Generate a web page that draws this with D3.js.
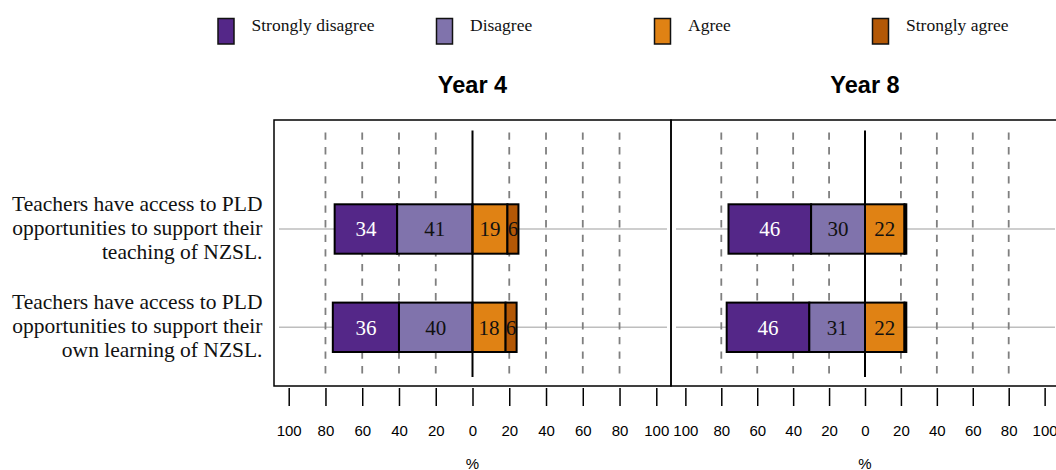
<!DOCTYPE html>
<html>
<head>
<meta charset="utf-8">
<script src="https://cdn.jsdelivr.net/npm/d3@7"></script>
<style>
  html, body { margin: 0; padding: 0; background: #fff; }
  svg { display: block; }
</style>
</head>
<body>
<svg id="chart" width="1056" height="470"></svg>
<script>
// ---- data ----
const categories = ["Strongly disagree", "Disagree", "Agree", "Strongly agree"];
const colors = ["#542788", "#8073ac", "#e08214", "#b35806"];
const panels = ["Year 4", "Year 8"];
const questions = [
  ["Teachers have access to PLD", "opportunities to support their", "teaching of NZSL."],
  ["Teachers have access to PLD", "opportunities to support their", "own learning of NZSL."]
];
// values per panel, per question: [SD, D, A, SA]
const year4Values = [[34, 41, 19, 6], [36, 40, 18, 6]];
const year8Values = [[46, 30, 22, 1], [46, 31, 22, 1]];
const panelValues = [year4Values, year8Values];
const tickValues = [-100, -80, -60, -40, -20, 0, 20, 40, 60, 80, 100];
const gridValues = [-80, -60, -40, -20, 20, 40, 60, 80];

const svg = d3.select("#chart");
const serif = "'Liberation Serif', 'Times New Roman', serif";
const sans = "'Liberation Sans', Arial, sans-serif";

const panelTop = 120, panelBottom = 386;
const panelRanges = [[274, 671], [671, 1059]];
const y = d3.scalePoint().domain(d3.range(questions.length)).range([229, 327.3]);
const barH = 49.4;

// legend
const legendX = [218, 436.5, 654.5, 872.5];
const lg = svg.append("g");
categories.forEach((c, i) => {
  lg.append("rect").attr("x", legendX[i]).attr("y", 18.5).attr("width", 16).attr("height", 25.5)
    .attr("fill", colors[i]).attr("stroke", "#111").attr("stroke-width", 1.5);
  lg.append("text").attr("x", legendX[i] + 33.5).attr("y", 30.5)
    .attr("font-family", serif).attr("font-size", 17.5).attr("fill", "#111").text(c);
});

// y labels
const yl = svg.append("g");
questions.forEach((lines, qi) => {
  lines.forEach((ln, li) => {
    yl.append("text").attr("x", 262.5).attr("y", y(qi) - 2 + (li - 1) * 24)
      .attr("dy", "0.35em").attr("text-anchor", "end")
      .attr("font-family", serif).attr("font-size", 21.5).attr("fill", "#111").text(ln);
  });
});

panels.forEach((p, pi) => {
  const x = d3.scaleLinear().domain([-108, 108]).range(panelRanges[pi]);
  const g = svg.append("g");
  const clipId = "clip" + pi;
  svg.append("clipPath").attr("id", clipId).append("rect")
    .attr("x", panelRanges[pi][0]).attr("y", panelTop)
    .attr("width", panelRanges[pi][1] - panelRanges[pi][0]).attr("height", panelBottom - panelTop);
  const inner = g.append("g").attr("clip-path", `url(#${clipId})`);

  // horizontal reference lines
  inner.selectAll("line.h").data(d3.range(questions.length)).join("line")
    .attr("x1", panelRanges[pi][0] + 5).attr("x2", panelRanges[pi][1] - 4)
    .attr("y1", d => y(d)).attr("y2", d => y(d))
    .attr("stroke", "#bebebe").attr("stroke-width", 1.5);

  // dashed grid
  inner.selectAll("line.g").data(gridValues).join("line")
    .attr("x1", d => x(d)).attr("x2", d => x(d))
    .attr("y1", 132.5).attr("y2", 377)
    .attr("stroke", "#7f7f7f").attr("stroke-width", 1.8).attr("stroke-dasharray", "7.3,7.3");

  // bars
  panelValues[pi].forEach((vals, qi) => {
    const [sd, d, a, sa] = vals;
    const segs = [
      { v: sd, x0: -(sd + d), x1: -d, i: 0 },
      { v: d, x0: -d, x1: 0, i: 1 },
      { v: a, x0: 0, x1: a, i: 2 },
      { v: sa, x0: a, x1: a + sa, i: 3 }
    ];
    const bg = inner.append("g");
    bg.selectAll("rect").data(segs).join("rect")
      .attr("x", s => x(s.x0)).attr("width", s => x(s.x1) - x(s.x0))
      .attr("y", y(qi) - barH / 2).attr("height", barH)
      .attr("fill", s => colors[s.i]).attr("stroke", "#000").attr("stroke-width", 2);
    bg.selectAll("text").data(segs.filter(s => s.v >= 3)).join("text")
      .attr("x", s => x((s.x0 + s.x1) / 2)).attr("y", y(qi)).attr("dy", "0.35em")
      .attr("text-anchor", "middle").attr("font-family", serif).attr("font-size", 21)
      .attr("fill", s => s.i === 0 ? "#fff" : "#111").text(s => s.v);
  });

  // zero line
  inner.append("line").attr("x1", x(0)).attr("x2", x(0)).attr("y1", 130.5).attr("y2", 377)
    .attr("stroke", "#000").attr("stroke-width", 2);

  // panel box
  g.append("rect").attr("x", panelRanges[pi][0]).attr("y", panelTop)
    .attr("width", panelRanges[pi][1] - panelRanges[pi][0]).attr("height", panelBottom - panelTop)
    .attr("fill", "none").attr("stroke", "#000").attr("stroke-width", 1.5);

  // title
  g.append("text").attr("x", x(0)).attr("y", 93).attr("text-anchor", "middle")
    .attr("font-family", sans).attr("font-weight", "bold").attr("font-size", 23.5)
    .attr("fill", "#000").text(p);

  // axis
  const ax = g.append("g").attr("transform", `translate(0,388)`)
    .call(d3.axisBottom(x).tickValues(tickValues).tickSize(18).tickFormat(v => Math.abs(v)));
  ax.select(".domain").remove();
  ax.selectAll(".tick line").attr("stroke", "#000").attr("stroke-width", 1.5);
  ax.selectAll(".tick text").attr("y", 48).attr("dy", null)
    .attr("font-family", sans).attr("font-size", 15).attr("fill", "#000");

  g.append("text").attr("x", x(0)).attr("y", 469).attr("text-anchor", "middle")
    .attr("font-family", sans).attr("font-size", 15).attr("fill", "#000").text("%");
});
</script>
</body>
</html>
